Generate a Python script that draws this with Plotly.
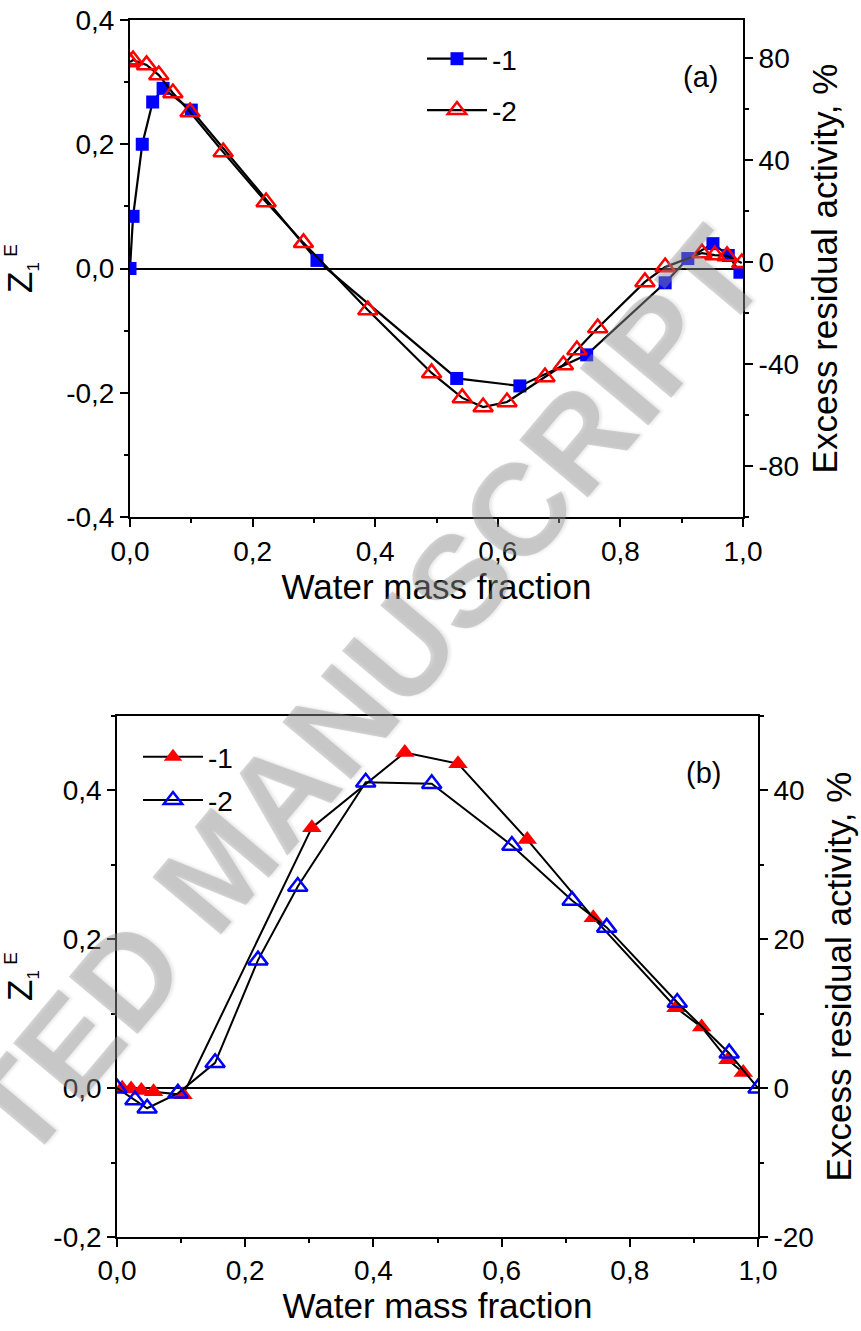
import plotly.graph_objects as go

# ---------------- panel (a) data ----------------
a_x1 = [0.0, 0.005, 0.02, 0.037, 0.054, 0.10, 0.305, 0.533, 0.636, 0.745,
        0.873, 0.910, 0.951, 0.976, 0.995]
a_z1 = [0.0, 0.084, 0.20, 0.268, 0.29, 0.255, 0.013, -0.177, -0.189, -0.139,
        -0.023, 0.016, 0.040, 0.021, -0.006]

a_x2 = [0.0, 0.005, 0.027, 0.047, 0.07, 0.098, 0.152, 0.222, 0.283, 0.388,
        0.492, 0.542, 0.576, 0.615, 0.677, 0.707, 0.729, 0.763, 0.840, 0.873,
        0.933, 0.954, 0.974, 0.998]
a_act2 = [78.4, 79.2, 77.3, 73.3, 66.3, 58.8, 43.1, 23.5, 7.5, -18.8,
          -43.5, -53.3, -56.9, -54.9, -45.1, -40.4, -34.5, -25.9, -7.8, -2.0,
          3.5, 2.7, 2.4, -0.4]

# ---------------- panel (b) data ----------------
b_x1 = [0.008, 0.022, 0.038, 0.057, 0.103, 0.304, 0.449, 0.532, 0.640, 0.743,
        0.872, 0.912, 0.953, 0.977]
b_z1 = [0.0, -0.001, -0.003, -0.005, -0.009, 0.350, 0.451, 0.436, 0.334, 0.229,
        0.108, 0.082, 0.038, 0.021]

b_x2 = [0.0, 0.028, 0.047, 0.095, 0.153, 0.220, 0.282, 0.388, 0.491, 0.616,
        0.710, 0.764, 0.874, 0.955, 1.0]
b_act2 = [0.0, -1.6, -2.7, -0.7, 3.4, 17.2, 27.1, 41.1, 40.9, 32.6,
          25.2, 21.6, 11.5, 4.7, 0.0]

# ---------------- tick labels ----------------
x_tickvals = [0.0, 0.2, 0.4, 0.6, 0.8, 1.0]
x_ticktext = ["0,0", "0,2", "0,4", "0,6", "0,8", "1,0"]
a_left_tickvals = [-0.4, -0.2, 0.0, 0.2, 0.4]
a_left_ticktext = ["-0,4", "-0,2", "0,0", "0,2", "0,4"]
a_right_tickvals = [-80, -40, 0, 40, 80]
a_right_ticktext = ["-80", "-40", "0", "40", "80"]
b_left_tickvals = [-0.2, 0.0, 0.2, 0.4]
b_left_ticktext = ["-0,2", "0,0", "0,2", "0,4"]
b_right_tickvals = [-20, 0, 20, 40]
b_right_ticktext = ["-20", "0", "20", "40"]

FONT = "Arial, Liberation Sans, sans-serif"
W, H = 861, 1331


def px_x(p):
    return p / W


def px_y(p):
    return 1 - p / H


fig = go.Figure()

fig.add_trace(go.Scatter(
    x=a_x1, y=a_z1, name="-1", mode="lines+markers",
    line=dict(color="black", width=2.2),
    marker=dict(symbol="square", size=13, color="#0000ff",
                line=dict(width=0)),
    xaxis="x", yaxis="y", legend="legend", legendgroup="a1"))
fig.add_trace(go.Scatter(
    x=a_x2, y=a_act2, name="-2", mode="lines+markers",
    line=dict(color="black", width=2.2),
    marker=dict(symbol="triangle-up-open", size=17, color="#ff0000",
                line=dict(width=2.5, color="#ff0000")),
    xaxis="x", yaxis="y2", legend="legend", legendgroup="a2"))

fig.add_trace(go.Scatter(
    x=b_x1, y=b_z1, name="-1", mode="lines+markers",
    line=dict(color="black", width=2),
    marker=dict(symbol="triangle-up", size=17, color="#ff0000",
                line=dict(width=0)),
    xaxis="x2", yaxis="y3", legend="legend2", legendgroup="b1"))
fig.add_trace(go.Scatter(
    x=b_x2, y=b_act2, name="-2", mode="lines+markers",
    line=dict(color="black", width=2),
    marker=dict(symbol="triangle-up-open", size=17, color="#0000ff",
                line=dict(width=2.5, color="#0000ff")),
    xaxis="x2", yaxis="y4", legend="legend2", legendgroup="b2"))

tickfont = dict(family=FONT, size=28, color="black")
titlefont = dict(family=FONT, size=35, color="black")

common = dict(showgrid=False, ticks="outside", ticklen=8, tickwidth=2,
              tickcolor="black", showline=True, linecolor="black",
              tickfont=tickfont, tickmode="array", automargin=False)

z_title = ("Z<sub><span style='font-size:17px'>1</span></sub>"
           "<sup><span style='font-size:19px'> E</span></sup>")

fig.update_layout(
    width=W, height=H,
    margin=dict(l=0, r=0, t=0, b=0, autoexpand=False),
    paper_bgcolor="white", plot_bgcolor="white",
    font=dict(family=FONT, color="black"),
    xaxis=dict(domain=[px_x(130), px_x(743)], anchor="y", range=[0, 1],
               tickvals=x_tickvals, ticktext=x_ticktext, linewidth=2,
               mirror=True, zeroline=False,
               minor=dict(dtick=0.1, tick0=0, ticks="outside", ticklen=4,
                          tickwidth=2, tickcolor="black"),
               title=dict(text="Water mass fraction", font=titlefont,
                          standoff=6),
               **common),
    yaxis=dict(domain=[px_y(517), px_y(20)], anchor="x", range=[-0.4, 0.4],
               tickvals=a_left_tickvals, ticktext=a_left_ticktext,
               linewidth=2, zeroline=True, zerolinecolor="black",
               zerolinewidth=2,
               minor=dict(dtick=0.1, tick0=0, ticks="outside", ticklen=4,
                          tickwidth=2, tickcolor="black"),
               title=dict(text=z_title, font=titlefont, standoff=32),
               **common),
    yaxis2=dict(overlaying="y", side="right", anchor="x",
                range=[-100, 94.9],
                tickvals=a_right_tickvals, ticktext=a_right_ticktext,
                linewidth=2, zeroline=False,
                minor=dict(dtick=20, tick0=0, ticks="outside", ticklen=4,
                           tickwidth=2, tickcolor="black"),
                title=dict(text="Excess residual activity, %",
                           font=titlefont, standoff=14),
                **common),
    xaxis2=dict(domain=[px_x(117), px_x(758)], anchor="y3", range=[0, 1],
                tickvals=x_tickvals, ticktext=x_ticktext, linewidth=1.6,
                mirror=True, zeroline=False,
                minor=dict(dtick=0.1, tick0=0, ticks="outside", ticklen=4,
                           tickwidth=2, tickcolor="black"),
                title=dict(text="Water mass fraction", font=titlefont,
                           standoff=6),
                **common),
    yaxis3=dict(domain=[px_y(1237), px_y(716)], anchor="x2",
                range=[-0.2, 0.5],
                tickvals=b_left_tickvals, ticktext=b_left_ticktext,
                linewidth=1.6, zeroline=True, zerolinecolor="black",
                zerolinewidth=2,
                minor=dict(dtick=0.1, tick0=0, ticks="outside", ticklen=4,
                           tickwidth=2, tickcolor="black"),
                title=dict(text=z_title, font=titlefont, standoff=38),
                **common),
    yaxis4=dict(overlaying="y3", side="right", anchor="x2",
                range=[-20, 50],
                tickvals=b_right_tickvals, ticktext=b_right_ticktext,
                linewidth=1.6, zeroline=False,
                minor=dict(dtick=10, tick0=0, ticks="outside", ticklen=4,
                           tickwidth=2, tickcolor="black"),
                title=dict(text="Excess residual activity, %",
                           font=titlefont, standoff=14),
                **common),
    legend=dict(x=px_x(422), y=px_y(34), xanchor="left", yanchor="top",
                bgcolor="rgba(0,0,0,0)", font=dict(family=FONT, size=28),
                traceorder="grouped", tracegroupgap=12, itemsizing="trace",
                itemwidth=60),
    legend2=dict(x=px_x(138), y=px_y(732), xanchor="left", yanchor="top",
                 bgcolor="rgba(0,0,0,0)", font=dict(family=FONT, size=28),
                 traceorder="grouped", tracegroupgap=4, itemsizing="trace",
                 itemwidth=60),
    showlegend=True,
)

fig.add_annotation(text="(a)", x=px_x(700), y=px_y(77), xref="paper",
                   yref="paper", xanchor="center", yanchor="middle",
                   showarrow=False,
                   font=dict(family=FONT, size=29, color="black"))
fig.add_annotation(text="(b)", x=px_x(703), y=px_y(773), xref="paper",
                   yref="paper", xanchor="center", yanchor="middle",
                   showarrow=False,
                   font=dict(family=FONT, size=29, color="black"))

# diagonal journal watermark drawn over the plots
fig.add_annotation(text="ACCEPTED MANUSCRIPT", x=px_x(218), y=px_y(868),
                   xref="paper", yref="paper", xanchor="center",
                   yanchor="middle", showarrow=False, textangle=-50,
                   font=dict(family=FONT, size=130, weight="bold",
                             color="rgba(150,150,150,0.40)",
                             shadow="2px 2px 3px rgba(90,90,90,0.35)"))

fig.write_html("out.html")
